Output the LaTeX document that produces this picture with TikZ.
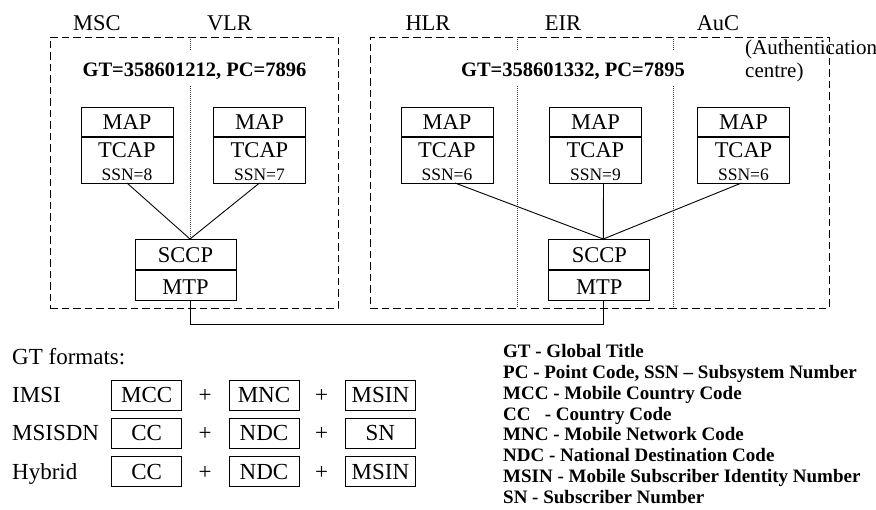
\documentclass[tikz,border=0pt]{standalone}
\usepackage{fontspec}
\setmainfont{Liberation Serif}
\begin{document}
\begin{tikzpicture}[x=1pt,y=-1pt,
  lbl/.style={font=\fontsize{22.5}{26}\selectfont, inner sep=0pt, anchor=base},
  gtb/.style={font=\bfseries\fontsize{20.5}{24}\selectfont, inner sep=0pt, anchor=base},
  ssnf/.style={font=\fontsize{17.5}{20}\selectfont, inner sep=0pt, anchor=base},
  legf/.style={font=\bfseries\fontsize{19}{21}\selectfont, inner sep=0pt, anchor=base west},
  fmtf/.style={font=\fontsize{23}{26}\selectfont, inner sep=0pt, anchor=base},
  box/.style={draw, line width=0.9pt, inner sep=0pt, outer sep=0pt},
  divider/.style={line width=2pt},
  grp/.style={draw, line width=0.9pt, dash pattern=on 7.5pt off 4pt, inner sep=0pt, outer sep=0pt},
  sep/.style={line width=0.6pt, dash pattern=on 1pt off 1pt, black!75},
  wire/.style={line width=0.9pt}
]
\useasboundingbox (0,0) rectangle (876,510);

% group frames
\node[grp, minimum width=288pt, minimum height=271pt] (grpL) at (194,172.5) {};
\node[grp, minimum width=459pt, minimum height=271pt] (grpR) at (599.5,172.5) {};

% separators
\draw[sep] (190,37) -- (190,50);
\draw[sep] (190,86) -- (190,239);
\draw[sep] (517.3,37) -- (517.3,50);
\draw[sep] (517.3,86) -- (517.3,308);
\draw[sep] (673.3,37) -- (673.3,50);
\draw[sep] (673.3,86) -- (673.3,308);

% top labels
\node[lbl] (tMSC) at (97,31) {MSC};
\node[lbl] (tVLR) at (229.5,31) {VLR};
\node[lbl] (tHLR) at (428,31) {HLR};
\node[lbl] (tEIR) at (563,31) {EIR};
\node[lbl] (tAuC) at (718,31) {AuC};
\node[font=\fontsize{21}{23}\selectfont, inner sep=0pt, anchor=base west] (auc1) at (745,55) {(Authentication};
\node[font=\fontsize{21}{23}\selectfont, inner sep=0pt, anchor=base west] (auc2) at (745,78) {centre)};

% GT titles
\node[gtb] (gtL) at (194.5,77) {GT=358601212, PC=7896};
\node[gtb] (gtR) at (573,77) {GT=358601332, PC=7895};

% MAP/TCAP stacks
\newcommand\mapstack[3]{%
  \node[box, minimum width=92pt, minimum height=76pt] (#1) at (#2,145) {};
  \draw[divider] (#1.west |- 0,137) -- (#1.east |- 0,137);
  \node[lbl] (#1-map) at (#2,130) {MAP};
  \node[lbl] (#1-tcap) at (#2,158) {TCAP};
  \node[ssnf] (#1-ssn) at (#2,181) {SSN=#3};
}
\mapstack{msc}{127}{8}
\mapstack{vlr}{259.5}{7}
\mapstack{hlr}{447}{6}
\mapstack{eir}{595.5}{9}
\mapstack{auc}{743.5}{6}

% SCCP/MTP stacks
\newcommand\sccpstack[2]{%
  \node[box, minimum width=101pt, minimum height=61pt] (#1) at (#2,269.5) {};
  \draw[divider] (#1.west |- 0,270) -- (#1.east |- 0,270);
  \node[lbl] (#1-sccp) at (#2,262.7) {SCCP};
  \node[lbl] (#1-mtp) at (#2,294.3) {MTP};
}
\sccpstack{sccpL}{185.5}
\sccpstack{sccpR}{599.3}

\coordinate (convL) at (190,239);
\coordinate (convR) at (603.3,239);
\coordinate (portL) at (190,300);
\coordinate (portR) at (603.3,300);

% connectors
\draw[wire] (msc.south) -- (convL);
\draw[wire] (vlr.south) -- (convL);
\draw[wire] ([xshift=8pt]hlr.south) -- (convR);
\draw[wire] ([xshift=8pt]eir.south) -- (convR);
\draw[wire] ([xshift=-2pt]auc.south) -- (convR);
\draw[wire] (portL) -- (190,324.3) -- (603.3,324.3) -- (portR);

% GT formats
\node[fmtf, anchor=base west] (fmt) at (12,365) {GT formats:};
\node[fmtf, anchor=base west] (rIMSI) at (12,402.5) {IMSI};
\node[fmtf, anchor=base west] (rMSISDN) at (12,440.5) {MSISDN};
\node[fmtf, anchor=base west] (rHyb) at (12,479) {Hybrid};

\newcommand\fmtrow[5]{% name, ycenter, a, b, c
  \node[box, minimum width=70pt, minimum height=30pt] (#1a) at (146.7,#2) {};
  \node[box, minimum width=70pt, minimum height=30pt] (#1b) at (264,#2) {};
  \node[box, minimum width=69.3pt, minimum height=30pt] (#1c) at (380.4,#2) {};
  \node[fmtf] (#1at) at (146.7,#2+7.7) {#3};
  \node[fmtf] (#1bt) at (264,#2+7.7) {#4};
  \node[fmtf] (#1ct) at (380.4,#2+7.7) {#5};
  \node[fmtf] (#1p1) at (205,#2+7.7) {+};
  \node[fmtf] (#1p2) at (321.7,#2+7.7) {+};
}
\fmtrow{r1}{395}{MCC}{MNC}{MSIN}
\fmtrow{r2}{433}{CC}{NDC}{SN}
\fmtrow{r3}{471.7}{CC}{NDC}{MSIN}

% legend
\node[legf] (lg1) at (503,357.5) {GT - Global Title};
\node[legf] (lg2) at (503,378.4) {PC - Point Code, SSN – Subsystem Number};
\node[legf] (lg3) at (503,399.2) {MCC - Mobile Country Code};
\node[legf] (lg4) at (503,420.1) {CC \ \ - Country Code};
\node[legf] (lg5) at (503,441.0) {MNC - Mobile Network Code};
\node[legf] (lg6) at (503,461.8) {NDC - National Destination Code};
\node[legf] (lg7) at (503,482.7) {MSIN - Mobile Subscriber Identity Number};
\node[legf] (lg8) at (503,503.5) {SN - Subscriber Number};
\end{tikzpicture}
\end{document}
